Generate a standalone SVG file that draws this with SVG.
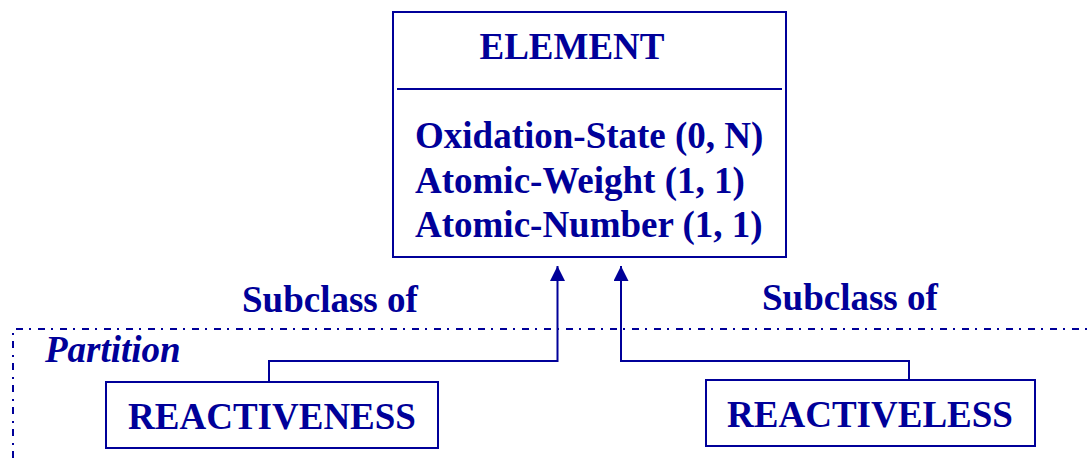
<svg xmlns="http://www.w3.org/2000/svg" width="1087" height="458" viewBox="0 0 1087 458">
<style>
.box{fill:#fff;stroke:#000099;stroke-width:2}
.ln{fill:none;stroke:#000099;stroke-width:2}
.part{fill:none;stroke:#000099;stroke-width:2;stroke-dasharray:7 6 2 7}
text{font-family:"Liberation Serif","Times New Roman",serif;font-weight:bold;font-size:37px;fill:#000099}
.it{font-style:italic}
</style>
<defs>
<marker id="ah" markerWidth="16" markerHeight="16" refX="15" refY="7.5" orient="auto" markerUnits="userSpaceOnUse">
<path d="M0,0 L15,7.5 L0,15 Z" fill="#000099"/>
</marker>
</defs>
<rect width="1087" height="458" fill="#fff"/>
<g id="partition">
<path class="part" d="M13,458 L13,329 L1087,329"/>
<text class="it" x="45" y="362">Partition</text>
</g>
<g id="connectors">
<path class="ln" d="M269,381 L269,361 L557.5,361 L557.5,266" marker-end="url(#ah)"/>
<path class="ln" d="M909,380 L909,361 L621,361 L621,266" marker-end="url(#ah)"/>
<text x="242" y="312">Subclass of</text>
<text x="762" y="310">Subclass of</text>
</g>
<g id="element">
<rect class="box" x="393" y="12" width="393" height="245"/>
<line class="ln" x1="397" y1="89" x2="782" y2="89"/>
<text x="572" y="59" text-anchor="middle">ELEMENT</text>
<text x="415" y="148">Oxidation-State (0, N)</text>
<text x="415" y="193">Atomic-Weight (1, 1)</text>
<text x="415" y="237">Atomic-Number (1, 1)</text>
</g>
<g id="reactiveness">
<rect class="box" x="106" y="382" width="332" height="66"/>
<text x="272" y="429" text-anchor="middle">REACTIVENESS</text>
</g>
<g id="reactiveless">
<rect class="box" x="706" y="380" width="329" height="66"/>
<text x="870" y="427" text-anchor="middle">REACTIVELESS</text>
</g>
</svg>
